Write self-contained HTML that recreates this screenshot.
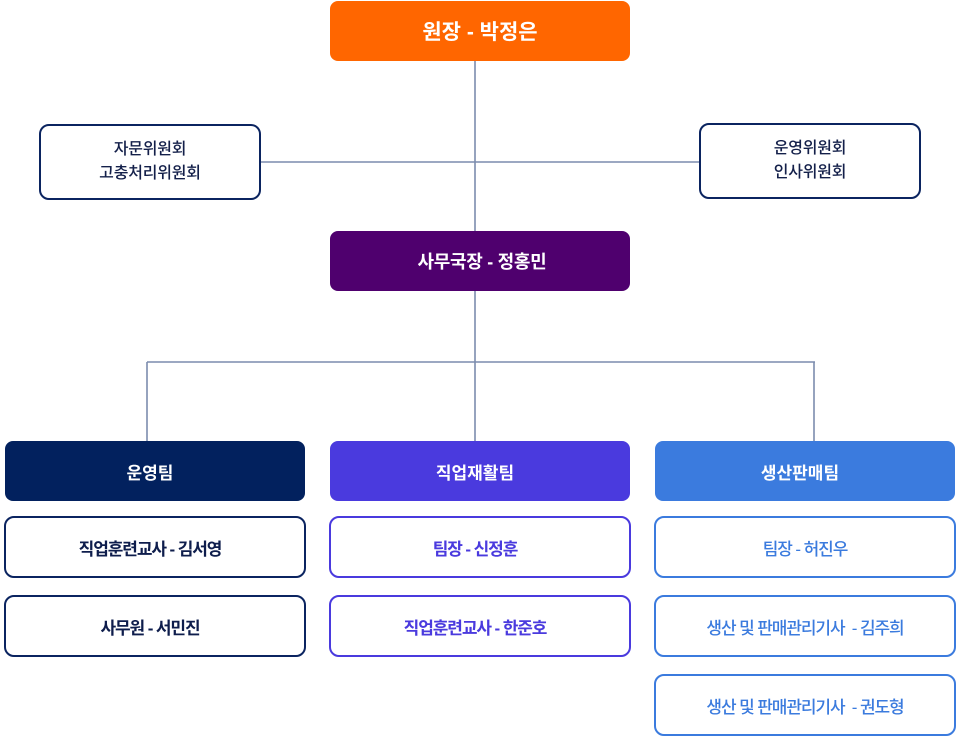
<!DOCTYPE html>
<html><head><meta charset="utf-8">
<style>
html,body{margin:0;padding:0;background:#fff;}
body{width:960px;height:738px;position:relative;overflow:hidden;font-family:"Liberation Sans","Noto Sans CJK KR",sans-serif;}
.b{position:absolute;box-sizing:border-box;display:flex;align-items:center;justify-content:center;text-align:center;}
.h{color:#fff;font-weight:700;border-radius:8px;font-size:17px;letter-spacing:0;}
.m{background:#fff;border:2px solid;border-radius:10px;font-size:17px;letter-spacing:-1.1px;font-weight:700;}
.c{background:#fff;border:2px solid #0b2460;border-radius:10px;color:#14204a;font-size:16px;line-height:24px;letter-spacing:-0.2px;font-weight:500;}
.off{padding-right:10px;}
svg{position:absolute;left:0;top:0;}
</style></head><body>
<svg width="960" height="738">
<g stroke="#7c8cad" stroke-width="1.6" fill="none">
<line x1="475" y1="60" x2="475" y2="232"/>
<line x1="260" y1="162" x2="700" y2="162"/>
<line x1="475" y1="290" x2="475" y2="442"/>
<line x1="147" y1="362" x2="815" y2="362"/>
<line x1="147" y1="362" x2="147" y2="442"/>
<line x1="814" y1="362" x2="814" y2="442"/>
</g>
</svg>

<div class="b h" style="left:330px;top:1px;width:300px;height:60px;background:#ff6600;font-size:21px;letter-spacing:0;">원장 - 박정은</div>

<div class="b c" style="left:39px;top:124px;width:222px;height:76px;">자문위원회<br>고충처리위원회</div>
<div class="b c" style="left:699px;top:123px;width:222px;height:76px;">운영위원회<br>인사위원회</div>

<div class="b h" style="left:330px;top:231px;width:300px;height:60px;background:#4f006e;font-size:18px;letter-spacing:-0.3px;padding-left:4px;">사무국장 - 정홍민</div>

<div class="b h off" style="left:5px;top:441px;width:300px;height:60px;background:#02215e;">운영팀</div>
<div class="b h off" style="left:330px;top:441px;width:300px;height:60px;background:#4a3ade;">직업재활팀</div>
<div class="b h off" style="left:655px;top:441px;width:300px;height:60px;background:#3b7bde;">생산판매팀</div>

<div class="b m off" style="left:4px;top:516px;width:302px;height:62px;border-color:#0b2460;color:#0e1d4c;">직업훈련교사 - 김서영</div>
<div class="b m off" style="left:4px;top:595px;width:302px;height:62px;border-color:#0b2460;color:#0e1d4c;">사무원 - 서민진</div>

<div class="b m off" style="left:329px;top:516px;width:302px;height:62px;border-color:#4a3ade;color:#4a3ade;">팀장 - 신정훈</div>
<div class="b m off" style="left:329px;top:595px;width:302px;height:62px;border-color:#4a3ade;color:#4a3ade;">직업훈련교사 - 한준호</div>

<div class="b m" style="left:654px;top:516px;width:302px;height:62px;border-color:#3b7bde;color:#3b7bde;font-weight:500;">팀장 - 허진우</div>
<div class="b m" style="left:654px;top:595px;width:302px;height:62px;border-color:#3b7bde;color:#3b7bde;font-weight:500;white-space:pre;">생산 및 판매관리기사  - 김주희</div>
<div class="b m" style="left:654px;top:674px;width:302px;height:62px;border-color:#3b7bde;color:#3b7bde;font-weight:500;white-space:pre;">생산 및 판매관리기사  - 권도형</div>
</body></html>
